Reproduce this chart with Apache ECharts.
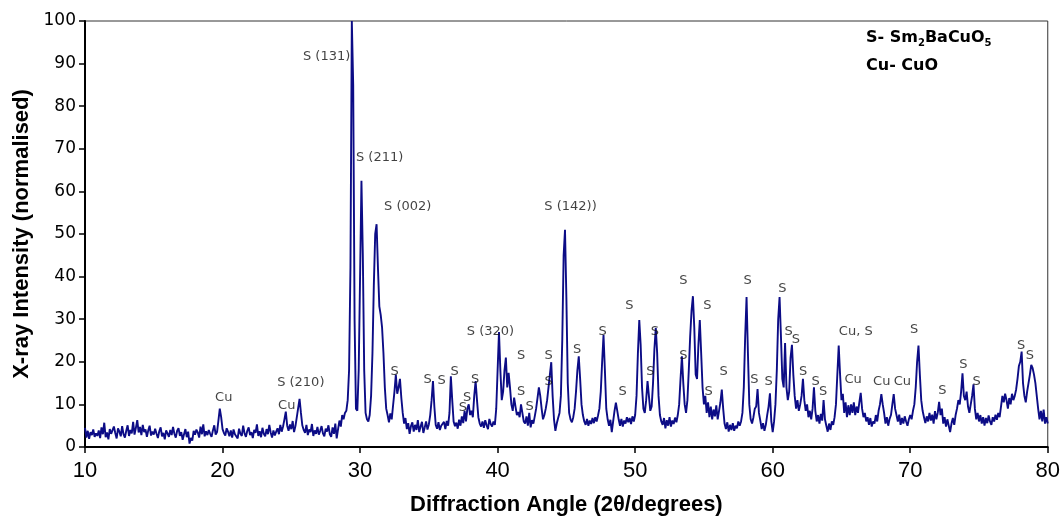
<!DOCTYPE html>
<html><head><meta charset="utf-8">
<script src="https://cdn.jsdelivr.net/npm/echarts/dist/echarts.min.js"></script>
<style>html,body{margin:0;padding:0;background:#fff}#c{width:1063px;height:521px}</style>
</head><body><div id="c"></div>
<script>
// XRD scan: 2theta from 10 to 80 degrees, step 0.1
const scanStart = 10;
const scanStep = 0.1;
// normalised intensity, one row per degree (x.0 ... x.9)
const intensity = [
/*10*/ 4.5, 2.2, 3.8, 1.9, 3.5, 2.8, 4.1, 2.4, 3.2, 2.6,
/*11*/ 3.9, 2.1, 4.6, 3.0, 5.7, 2.3, 3.4, 1.8, 4.2, 3.1,
/*12*/ 2.7, 4.8, 3.3, 2.0, 4.4, 3.6, 2.5, 4.9, 3.0, 2.2,
/*13*/ 3.8, 5.1, 2.6, 4.0, 3.2, 5.9, 2.9, 4.5, 6.3, 3.4,
/*14*/ 4.7, 2.8, 5.2, 3.5, 4.1, 2.4, 3.9, 5.0, 2.7, 3.6,
/*15*/ 2.9, 4.3, 3.1, 2.1, 3.7, 4.6, 2.5, 3.3, 1.8, 3.9,
/*16*/ 3.2, 2.4, 4.0, 2.8, 4.7, 3.1, 2.2, 3.8, 4.4, 2.6,
/*17*/ 3.5, 1.7, 3.0, 4.2, 2.3, 3.6, 0.8, 2.1, 1.5, 3.8,
/*18*/ 2.9, 4.1, 3.4, 2.2, 4.8, 3.0, 5.3, 2.5, 3.7, 2.8,
/*19*/ 4.0, 3.1, 2.4, 3.9, 5.1, 2.9, 3.5, 6.2, 9.0, 7.0,
/*20*/ 4.2, 3.3, 2.7, 4.4, 3.6, 2.5, 3.9, 2.2, 4.1, 3.0,
/*21*/ 3.4, 2.0, 4.3, 3.1, 2.6, 5.0, 3.2, 2.4, 3.8, 4.6,
/*22*/ 2.8, 3.5, 2.1, 4.0, 3.3, 5.3, 2.6, 3.7, 2.3, 4.5,
/*23*/ 3.1, 2.5, 4.2, 3.0, 5.2, 3.4, 2.2, 3.9, 2.7, 3.6,
/*24*/ 4.4, 3.0, 5.2, 3.6, 4.8, 6.5, 8.3, 5.0, 3.8, 5.3,
/*25*/ 4.2, 6.1, 3.5, 4.9, 7.0, 9.2, 11.3, 8.0, 5.1, 4.0,
/*26*/ 3.3, 5.2, 2.8, 4.1, 3.5, 5.4, 2.6, 3.9, 3.1, 4.7,
/*27*/ 2.9, 3.8, 4.9, 3.2, 2.5, 4.3, 3.6, 5.1, 3.0, 2.4,
/*28*/ 4.6, 3.1, 5.5, 2.0, 4.2, 6.2, 4.8, 7.5, 6.5, 8.0,
/*29*/ 8.5, 11.0, 18.0, 42.0, 100, 85.0, 30.0, 9.0, 8.5, 18.0,
/*30*/ 40.0, 62.5, 45.0, 18.0, 8.0, 6.5, 6.0, 7.5, 12.0, 22.0,
/*31*/ 38.0, 50.0, 52.3, 42.0, 33.0, 31.0, 28.0, 22.0, 14.0, 9.0,
/*32*/ 7.5, 5.8, 7.9, 6.5, 9.8, 13.0, 17.0, 12.5, 14.0, 16.0,
/*33*/ 11.5, 8.0, 5.5, 6.8, 4.2, 5.6, 3.1, 4.9, 5.8, 3.6,
/*34*/ 5.2, 4.0, 6.3, 3.5, 4.8, 5.9, 3.3, 4.6, 6.0, 4.1,
/*35*/ 5.3, 7.5, 11.0, 15.5, 9.5, 5.2, 4.3, 5.8, 4.0, 5.0,
/*36*/ 4.6, 5.9, 4.2, 6.1, 5.0, 8.0, 16.6, 11.0, 6.0, 4.9,
/*37*/ 5.7, 4.3, 6.4, 5.0, 7.2, 5.6, 8.5, 6.0, 9.0, 10.0,
/*38*/ 7.5, 8.5, 7.0, 12.0, 15.5, 11.0, 7.0, 5.5, 4.8, 6.0,
/*39*/ 4.5, 6.3, 5.1, 4.2, 6.6, 5.4, 4.8, 6.0, 5.2, 9.0,
/*40*/ 18.0, 27.0, 18.0, 11.0, 13.0, 18.0, 21.0, 14.0, 17.4, 14.0,
/*41*/ 10.0, 8.5, 11.6, 9.5, 7.5, 8.2, 7.0, 10.0, 8.0, 6.0,
/*42*/ 5.5, 7.2, 5.0, 8.0, 4.6, 6.3, 5.5, 7.2, 9.0, 11.5,
/*43*/ 14.0, 12.0, 9.0, 6.5, 7.5, 9.0, 11.0, 14.0, 17.0, 19.9,
/*44*/ 12.0, 6.5, 3.8, 5.5, 6.8, 8.0, 12.0, 25.0, 45.0, 51.0,
/*45*/ 35.0, 15.0, 8.0, 6.5, 5.8, 7.0, 9.0, 13.0, 18.0, 21.3,
/*46*/ 16.0, 10.0, 7.5, 6.0, 5.2, 6.6, 5.0, 6.2, 5.4, 6.8,
/*47*/ 5.6, 7.0, 6.0, 7.4, 9.0, 13.0, 20.0, 26.3, 18.0, 9.0,
/*48*/ 6.5, 5.0, 6.4, 3.5, 6.0, 8.5, 10.4, 8.5, 6.5, 5.0,
/*49*/ 6.6, 4.8, 6.2, 5.5, 7.0, 5.8, 6.8, 5.4, 7.2, 6.0,
/*50*/ 7.5, 12.0, 22.0, 29.8, 24.0, 14.0, 9.0, 8.0, 11.0, 15.5,
/*51*/ 12.0, 8.5, 9.5, 15.0, 23.0, 28.0, 22.0, 12.0, 7.5, 6.0,
/*52*/ 5.2, 6.8, 4.4, 6.3, 5.0, 7.0, 4.8, 6.2, 5.4, 6.9,
/*53*/ 5.8, 7.5, 10.0, 16.0, 21.3, 15.0, 10.0, 8.0, 11.0, 18.0,
/*54*/ 26.0, 32.0, 35.4, 28.0, 17.0, 16.0, 24.0, 29.8, 22.0, 14.0,
/*55*/ 10.0, 12.0, 8.0, 10.5, 7.0, 9.5, 6.5, 8.8, 7.2, 9.8,
/*56*/ 6.5, 8.5, 10.5, 13.5, 9.0, 5.5, 4.2, 5.8, 3.6, 5.2,
/*57*/ 4.0, 5.6, 3.8, 5.0, 4.4, 6.0, 5.0, 6.0, 8.0, 14.0,
/*58*/ 26.0, 35.2, 22.0, 10.0, 6.5, 5.5, 7.0, 9.0, 9.5, 13.6,
/*59*/ 8.0, 6.2, 4.2, 5.6, 3.8, 5.2, 7.5, 9.5, 12.6, 6.0,
/*60*/ 3.5, 6.0, 10.0, 18.0, 30.0, 35.2, 26.0, 16.0, 14.0, 24.4,
/*61*/ 14.0, 11.0, 13.0, 21.0, 24.0, 17.0, 12.0, 9.0, 11.0, 8.5,
/*62*/ 10.0, 12.0, 16.0, 11.0, 8.5, 10.0, 7.0, 8.5, 6.5, 9.0,
/*63*/ 14.0, 8.5, 6.0, 7.5, 5.5, 7.8, 6.2, 11.0, 6.5, 5.0,
/*64*/ 3.6, 5.5, 4.0, 6.0, 5.2, 7.0, 10.0, 17.0, 23.8, 17.0,
/*65*/ 11.0, 12.5, 8.0, 10.5, 7.0, 9.8, 7.5, 10.0, 8.0, 10.5,
/*66*/ 7.5, 9.5, 8.0, 10.5, 12.7, 9.0, 7.0, 8.0, 6.0, 7.0,
/*67*/ 5.2, 6.8, 4.8, 6.0, 5.5, 7.5, 6.0, 8.5, 10.0, 12.4,
/*68*/ 10.0, 8.0, 5.5, 7.0, 5.0, 6.6, 7.5, 10.0, 12.4, 9.0,
/*69*/ 7.5, 6.0, 7.6, 5.2, 6.8, 5.5, 7.2, 6.0, 5.0, 6.5,
/*70*/ 7.5, 6.5, 8.5, 10.0, 14.0, 20.0, 23.8, 17.0, 11.0, 8.5,
/*71*/ 7.0, 5.6, 7.2, 6.0, 8.0, 6.2, 7.6, 5.5, 8.4, 6.5,
/*72*/ 8.0, 10.6, 7.5, 9.0, 5.5, 7.0, 4.8, 6.5, 5.0, 3.5,
/*73*/ 5.5, 6.8, 5.2, 7.5, 9.0, 11.0, 10.0, 13.0, 17.3, 12.0,
/*74*/ 11.0, 13.0, 9.5, 8.0, 10.0, 12.0, 14.7, 9.0, 6.5, 8.0,
/*75*/ 6.0, 7.5, 5.5, 7.0, 5.0, 6.8, 5.6, 7.4, 6.0, 5.2,
/*76*/ 7.0, 6.0, 7.6, 6.4, 8.0, 7.0, 9.5, 12.0, 10.5, 12.5,
/*77*/ 11.0, 9.0, 11.5, 10.0, 12.5, 11.0, 12.0, 13.5, 16.0, 19.0,
/*78*/ 20.0, 22.4, 15.0, 12.0, 10.5, 13.0, 15.0, 17.0, 19.3, 18.5,
/*79*/ 17.0, 15.0, 12.0, 9.0, 6.5, 8.5, 6.0, 8.8, 5.5, 7.0,
/*80*/ 5.5
];

// peak labels: text, 2theta of label centre, intensity of label centre
const labelText  = ['S (131)','S (211)','S (002)','S (142))','S (320)','S (210)','Cu','Cu',
  'S','S','S','S','S','S','S','S','S','S','S','S','S','S','S','S','S','S','S','S',
  'S','S','S','S','S','S','S','S','S','S','S','S','Cu, S','Cu','Cu','Cu','S','S','S','S','S','S'];
const labelAngle = [27.57,31.42,33.46,45.3,39.48,25.69,20.09,24.67,
  32.51,34.91,35.93,36.87,37.47,37.79,38.37,41.71,41.71,42.32,43.7,43.7,45.78,47.64,49.09,49.58,51.1,51.44,53.5,53.5,
  55.26,55.34,56.43,58.17,58.66,59.7,60.71,61.15,61.68,62.21,63.13,63.67,66.04,65.85,67.93,69.43,70.28,72.33,73.86,74.83,78.07,78.70];
const labelLevel = [91.7,68.0,56.4,56.4,27.1,15.2,11.5,9.65,
  17.8,15.9,15.5,17.8,9.3,11.6,15.7,21.5,13.1,9.5,21.5,15.3,22.8,27.1,13.1,33.1,17.6,27.1,39.0,21.5,
  33.1,13.1,17.6,39.0,15.9,15.3,37.2,27.1,25.3,17.8,15.3,13.1,27.1,15.7,15.3,15.3,27.6,13.3,19.3,15.3,23.8,21.5];

const xTitle = 'Diffraction Angle (2θ/degrees)';
const yTitle = 'X-ray Intensity (normalised)';

const lineData = intensity.map((v, i) => [+(scanStart + i * scanStep).toFixed(1), v]);
const labelData = labelText.map((t, i) => ({ name: t, value: [labelAngle[i], labelLevel[i]] }));

const chart = echarts.init(document.getElementById('c'), null, { renderer: 'canvas' });
chart.setOption({
  animation: false,
  backgroundColor: '#fff',
  grid: { left: 85, top: 21, width: 964, height: 431, show: true, borderColor: '#333', borderWidth: 1 },
  xAxis: {
    type: 'value', min: 10, max: 80, interval: 10,
    axisLine: { show: true, onZero: false, lineStyle: { color: '#000', width: 2 } },
    axisTick: { show: true, inside: false, length: 6, lineStyle: { color: '#000', width: 1.5 } },
    axisLabel: { margin: 13, fontFamily: "'Liberation Sans Narrow', 'Liberation Sans'", fontSize: 22, color: '#000' },
    splitLine: { show: false },
    name: xTitle, nameLocation: 'middle', nameGap: 47,
    nameTextStyle: { fontFamily: 'Liberation Sans', fontWeight: 'bold', fontSize: 22, color: '#000' }
  },
  yAxis: {
    type: 'value', min: 0, max: 100, interval: 10,
    axisLine: { show: true, lineStyle: { color: '#000', width: 2 } },
    axisTick: { show: true, inside: false, length: 6, lineStyle: { color: '#000', width: 1.5 } },
    axisLabel: { margin: 9, fontFamily: 'DejaVu Sans', fontSize: 17, color: '#000' },
    splitLine: { show: false },
    name: yTitle, nameLocation: 'middle', nameGap: 52,
    nameTextStyle: { fontFamily: 'Liberation Sans', fontWeight: 'bold', fontSize: 22, color: '#000' }
  },
  graphic: [
    { type: 'text', left: 866, top: 30, style: {
      text: '{b|S- Sm}{s|2}{b|BaCuO}{s|5}',
      rich: {
        b: { fontFamily: 'DejaVu Sans', fontWeight: 'bold', fontSize: 16, lineHeight: 20, fill: '#000', color: '#000' },
        s: { fontFamily: 'DejaVu Sans', fontWeight: 'bold', fontSize: 10, lineHeight: 10, verticalAlign: 'bottom', fill: '#000', color: '#000' }
      } } },
    { type: 'text', left: 866, top: 58, style: {
      text: 'Cu- CuO', fontFamily: 'DejaVu Sans', fontWeight: 'bold', fontSize: 16, fill: '#000' } }
  ],
  series: [
    {
      type: 'line', data: lineData, showSymbol: false, sampling: null, smooth: false,
      lineStyle: { color: '#0c0c86', width: 1.9 }, emphasis: { disabled: true }, silent: true, z: 2
    },
    {
      type: 'scatter', data: labelData, symbolSize: 1, itemStyle: { color: 'rgba(0,0,0,0)' }, silent: true, z: 5,
      label: { show: true, position: 'inside', align: 'center', verticalAlign: 'middle',
        formatter: p => p.name, fontFamily: 'DejaVu Sans', fontSize: 13, color: '#111' },
      emphasis: { disabled: true }
    }
  ]
});
</script></body></html>
